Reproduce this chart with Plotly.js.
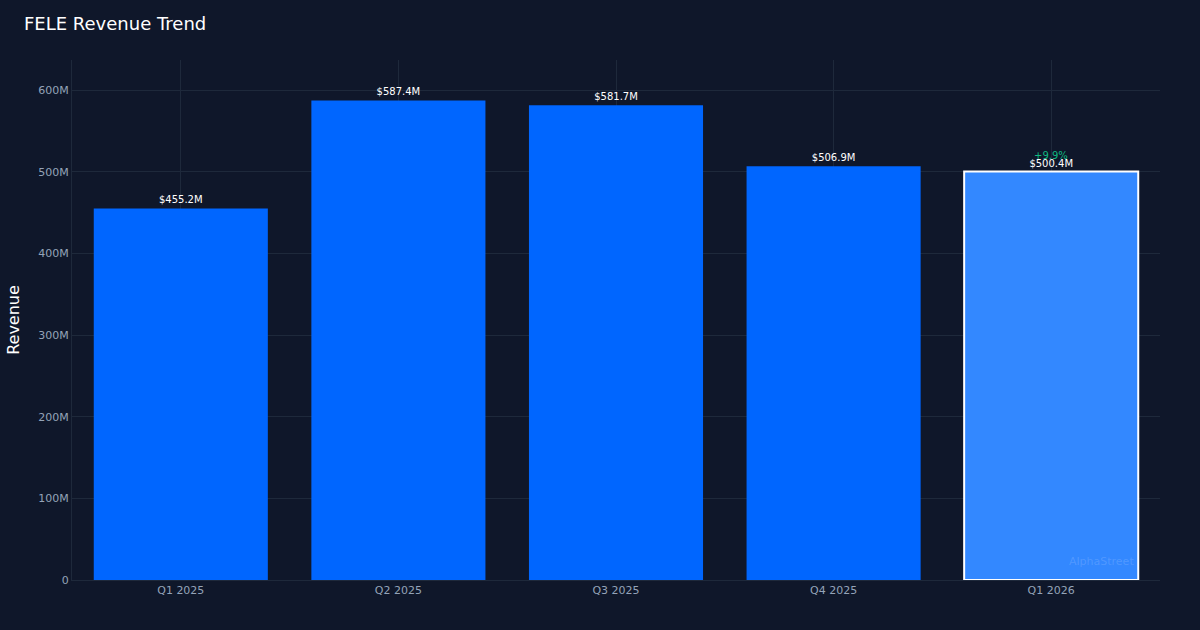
<!DOCTYPE html>
<html>
<head>
<meta charset="utf-8">
<script src="https://cdn.plot.ly/plotly-3.0.1.min.js"></script>
<style>html,body{margin:0;padding:0;background:#0f172a;}#chart{width:1200px;height:630px;}</style>
</head>
<body>
<div id="chart"></div>
<script>
const quarters = ["Q1 2025", "Q2 2025", "Q3 2025", "Q4 2025", "Q1 2026"];
const revenueM = [455.2, 587.4, 581.7, 506.9, 500.4];
const barLabels = ["$455.2M", "$587.4M", "$581.7M", "$506.9M", "$500.4M"];
const growthLabel = "+9.9%";
const yTickVals = [0, 100, 200, 300, 400, 500, 600];
const yTickText = ["0", "100M", "200M", "300M", "400M", "500M", "600M"];

const n = quarters.length;
const colors = revenueM.map((_, i) => i === n - 1 ? "#3388ff" : "#0066ff");
const lineW = revenueM.map((_, i) => i === n - 1 ? 2 : 0);

const trace = {
  type: "bar",
  x: quarters,
  y: revenueM,
  text: barLabels,
  textposition: "outside",
  cliponaxis: false,
  textfont: {family: "DejaVu Sans", size: 10, color: "#ffffff"},
  marker: {color: colors, line: {color: "#ffffff", width: lineW}},
  hoverinfo: "none"
};

const layout = {
  width: 1200, height: 630,
  paper_bgcolor: "#0f172a",
  plot_bgcolor: "#0f172a",
  margin: {l: 72, r: 40, t: 60, b: 50},
  bargap: 0.2,
  showlegend: false,
  font: {family: "DejaVu Sans", color: "#94a3b8"},
  title: {text: "FELE Revenue Trend", x: 0.02, xanchor: "left", y: 0.962, yanchor: "middle",
          font: {family: "DejaVu Sans", size: 18, color: "#ffffff"}},
  xaxis: {
    showgrid: true, gridcolor: "#1e293b", gridwidth: 1,
    linecolor: "#1e293b", showline: true,
    tickfont: {size: 11, color: "#94a3b8"}, ticks: ""
  },
  yaxis: {
    range: [0, 637],
    tickvals: yTickVals, ticktext: yTickText,
    showgrid: true, gridcolor: "#1e293b", gridwidth: 1,
    zeroline: false, showline: true, linecolor: "#1e293b",
    tickfont: {size: 11, color: "#94a3b8"},
    title: {text: "Revenue", font: {size: 16, color: "#ffffff"}, standoff: 14}
  },
  annotations: [
    {x: quarters[n - 1], y: revenueM[n - 1], xref: "x", yref: "y", text: growthLabel,
     showarrow: false, yanchor: "bottom", yshift: 9,
     font: {family: "DejaVu Sans", size: 10, color: "#10b981"}},
    {x: 0.978, y: 0.02, xref: "paper", yref: "paper", text: "AlphaStreet", showarrow: false,
     xanchor: "right", yanchor: "bottom",
     font: {family: "DejaVu Sans", size: 11, color: "rgba(255,255,255,0.15)"}}
  ]
};

Plotly.newPlot("chart", [trace], layout, {displayModeBar: false, staticPlot: true});
</script>
</body>
</html>
